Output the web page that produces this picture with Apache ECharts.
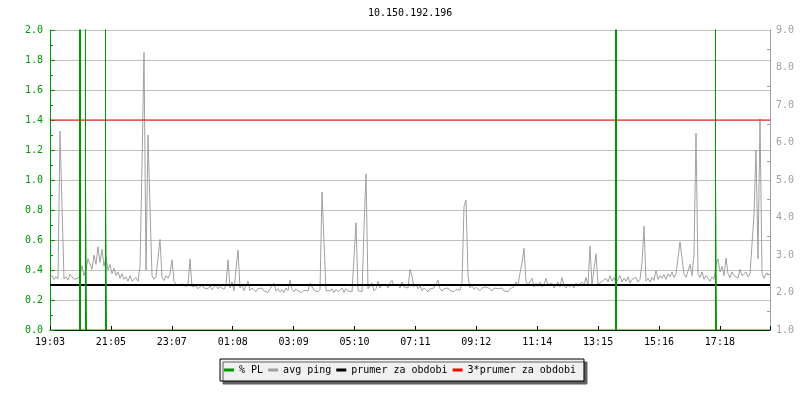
<!DOCTYPE html>
<html><head><meta charset="utf-8">
<script src="https://cdn.jsdelivr.net/npm/echarts/dist/echarts.min.js"></script>
<style>html,body{margin:0;padding:0;background:#fff}#c{width:800px;height:400px}</style>
</head><body><div id="c"></div>
<script>
const chartTitle = '10.150.192.196';
const xTickLabels = ['19:03','21:05','23:07','01:08','03:09','05:10','07:11','09:12','11:14','13:15','15:16','17:18'];
const seriesNames = ['% PL','avg ping','prumer za obdobi','3*prumer za obdobi'];
const leftTickValues = [0, 2, 0.2];   // min, max, step of % PL axis
const rightTickValues = [1, 9, 1];    // min, max, step of ping axis
const sampleStepMin = 4;              // minutes between avg ping samples
const spanMin = 1440;
const xLabelStepMin = 121.8;

// avg ping (ms), one value per sample
const pingValues = [
  2.38,2.45,2.35,2.42,2.36,6.3,4.3,2.36,2.42,2.33,2.48,2.42,2.35,2.4,2.38,2.45,2.72,2.45,2.62,2.9,
  2.85,2.62,3.0,2.75,3.22,2.8,3.15,2.7,2.95,2.6,2.75,2.5,2.65,2.45,2.55,2.38,2.5,2.35,2.42,2.3,
  2.45,2.3,2.28,2.4,2.3,2.7,5.4,8.4,2.6,6.2,4.25,2.45,2.35,2.42,2.38,3.42,2.4,2.32,2.45,2.38,
  2.5,2.87,2.3,2.22,2.25,2.18,2.24,2.2,2.15,2.22,2.89,2.15,2.12,2.18,2.1,2.15,2.2,2.12,2.16,2.1,
  2.18,2.08,2.14,2.2,2.1,2.16,2.12,2.08,2.2,2.87,2.12,2.28,2.05,2.62,3.13,2.12,2.22,2.05,2.1,2.3,
  2.05,2.12,2.08,2.02,2.1,2.06,2.12,2.04,2.08,2.0,2.1,2.06,2.25,2.04,2.1,2.02,2.08,2.0,2.12,2.05,
  2.33,2.08,2.02,2.1,2.04,2.08,2.0,2.06,2.1,2.04,2.25,2.3,2.06,2.1,2.02,2.08,4.68,3.35,2.05,2.1,
  2.04,2.1,2.0,2.08,2.02,2.06,2.12,2.0,2.1,2.04,2.08,2.02,2.93,3.86,2.05,2.08,2.02,3.72,5.16,2.1,
  2.06,2.25,2.04,2.1,2.3,2.12,2.2,2.15,2.22,2.12,2.25,2.32,2.18,2.15,2.22,2.12,2.28,2.15,2.2,2.12,
  2.62,2.42,2.15,2.22,2.1,2.18,2.05,2.12,2.08,2.02,2.1,2.05,2.12,2.08,2.33,2.1,2.04,2.1,2.06,2.12,
  2.05,2.1,2.02,2.08,2.12,2.06,2.26,4.3,4.47,2.44,2.12,2.2,2.08,2.14,2.1,2.05,2.12,2.08,2.15,2.1,
  2.1,2.04,2.12,2.08,2.1,2.05,2.12,2.04,2.08,2.02,2.1,2.06,2.15,2.28,2.2,2.52,2.79,3.18,2.3,2.2,
  2.22,2.38,2.15,2.25,2.18,2.28,2.15,2.22,2.38,2.2,2.15,2.25,2.12,2.2,2.28,2.15,2.4,2.18,2.12,2.22,
  2.15,2.22,2.12,2.25,2.18,2.15,2.28,2.2,2.4,2.18,3.24,2.2,2.15,3.03,2.22,2.18,2.3,2.25,2.38,2.28,
  2.45,2.3,2.4,2.25,2.35,2.45,2.28,2.38,2.3,2.42,2.25,2.35,2.3,2.4,2.28,2.35,2.79,3.77,2.3,2.38,
  2.28,2.4,2.32,2.6,2.35,2.45,2.38,2.48,2.35,2.5,2.42,2.55,2.4,2.5,2.45,3.35,2.92,2.5,2.4,2.45,
  2.75,2.45,3.0,6.25,2.5,2.4,2.55,2.35,2.45,2.38,2.3,2.42,2.35,2.75,2.9,2.55,2.7,2.45,2.92,2.5,
  2.4,2.55,2.45,2.5,2.38,2.62,2.45,2.4,2.55,2.42,2.5,2.45,4.07,5.8,2.9,6.63,2.5,2.38,2.5,2.52
];

// packet loss (%) readings: time (min from start) and value
const plTimes  = [0,
  59,59,61,61,61,
  71,71,71,73,73,
  111,111,111,113,113,
  1131,1131,1133,1133,1133,
  1331,1331,1331,1333,1333,
  1440];
const plValues = [0,
  0,1,1,100,0,
  0,100,1,1,0,
  0,100,1,1,0,
  0,1,1,100,0,
  0,100,1,1,0,
  0];

const avgPing = 2.2;
const threeAvgPing = 6.6;

const FONT = 'DejaVu Sans Mono';
const GREEN = '#009900';
const GRAY = '#a0a0a0';

const pingData = pingValues.map((v, i) => [i * sampleStepMin, v]);
const plData = plTimes.map((t, i) => [t, plValues[i]]);

const chart = echarts.init(document.getElementById('c'), null, {renderer: 'canvas'});
chart.setOption({
  animation: false,
  title: {
    text: chartTitle, left: 368, top: 8, padding: 0,
    textStyle: {fontFamily: FONT, fontSize: 10, fontWeight: 'normal', color: '#000'}
  },
  grid: {left: 50, right: 30, top: 30, bottom: 70, containLabel: false, outerBoundsMode: 'none'},
  legend: {
    data: seriesNames, left: 'center', top: 359, orient: 'horizontal',
    icon: 'rect', itemWidth: 10, itemHeight: 3, itemGap: 5,
    padding: [6, 8, 6, 4],
    backgroundColor: '#f0f0f0', borderColor: '#000', borderWidth: 1, borderRadius: 0,
    shadowColor: '#606060', shadowOffsetX: 3, shadowOffsetY: 3, shadowBlur: 0.01,
    textStyle: {fontFamily: FONT, fontSize: 10, color: '#000'}
  },
  xAxis: {
    type: 'value', min: 0, max: spanMin, interval: xLabelStepMin,
    axisLine: {onZero: false, lineStyle: {color: '#000', width: 1}},
    axisTick: {inside: true, length: 4, lineStyle: {color: '#000'}},
    axisLabel: {
      margin: 7, fontFamily: FONT, fontSize: 10, color: '#000', hideOverlap: false,
      formatter: function (v) {
        const k = Math.round(v / xLabelStepMin);
        return Math.abs(v - k * xLabelStepMin) < 0.5 ? (xTickLabels[k] || '') : '';
      }
    },
    splitLine: {show: false}
  },
  yAxis: [
    {
      type: 'value', position: 'left', min: leftTickValues[0], max: leftTickValues[1], interval: leftTickValues[2],
      axisLine: {show: true, lineStyle: {color: GREEN}},
      axisTick: {show: true, inside: true, length: 5, lineStyle: {color: GREEN}},
      minorTick: {show: true, splitNumber: 2, length: 3, lineStyle: {color: GREEN}},
      axisLabel: {color: GREEN, fontFamily: FONT, fontSize: 10, margin: 7, formatter: v => v.toFixed(1)},
      splitLine: {show: true, lineStyle: {color: '#c0c0c0', width: 1}}
    },
    {
      type: 'value', position: 'right', min: rightTickValues[0], max: rightTickValues[1], interval: rightTickValues[2],
      axisLine: {show: true, lineStyle: {color: GRAY}},
      axisTick: {show: false, inside: true},
      minorTick: {show: true, splitNumber: 2, length: 3, lineStyle: {color: GRAY}},
      axisLabel: {color: GRAY, fontFamily: FONT, fontSize: 10, margin: 6, formatter: v => v.toFixed(1)},
      splitLine: {show: false}
    }
  ],
  series: [
    {name: seriesNames[0], type: 'line', yAxisIndex: 0, data: plData, symbol: 'none', z: 6,
     lineStyle: {color: GREEN, width: 1}, itemStyle: {color: GREEN}},
    {name: seriesNames[1], type: 'line', yAxisIndex: 1, data: pingData, symbol: 'none', z: 3,
     lineStyle: {color: GRAY, width: 1}, itemStyle: {color: GRAY}},
    {name: seriesNames[2], type: 'line', yAxisIndex: 1, data: [[0, avgPing], [spanMin, avgPing]], symbol: 'none', z: 4,
     lineStyle: {color: '#000', width: 2}, itemStyle: {color: '#000'}},
    {name: seriesNames[3], type: 'line', yAxisIndex: 1, data: [[0, threeAvgPing], [spanMin, threeAvgPing]], symbol: 'none', z: 4,
     lineStyle: {color: '#ff0000', width: 1}, itemStyle: {color: '#ff0000'}}
  ]
});
</script>
</body></html>
